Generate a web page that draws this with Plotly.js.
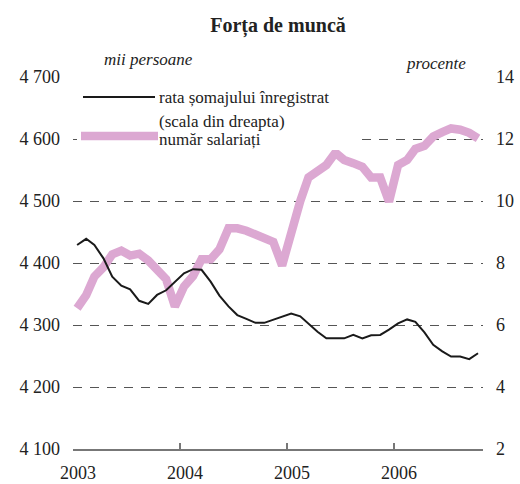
<!DOCTYPE html>
<html lang="ro">
<head>
  <meta charset="UTF-8">
  <title>Forța de muncă</title>
  <script src="https://cdn.plot.ly/plotly-3.0.1.min.js"></script>
  <style>
    body { margin: 0; background: #fff; }
    #chart { width: 520px; height: 484px; }
  </style>
</head>
<body>
  <div id="chart"></div>
  <script>
    // months Jan 2003 .. Oct 2006 (mid-month points)
    const months = [];
    for (let y = 2003; y <= 2006; y++) {
      for (let m = 1; m <= 12; m++) {
        if (y === 2006 && m > 10) break;
        months.push(y + '-' + String(m).padStart(2, '0') + '-15');
      }
    }

    // rata somajului inregistrat, % (right scale)
    const unemployment = [
      8.58, 8.78, 8.58, 8.15, 7.56, 7.27, 7.15, 6.78, 6.68, 6.97, 7.12, 7.38,
      7.67, 7.80, 7.78, 7.40, 6.95, 6.60, 6.32, 6.20, 6.07, 6.07, 6.17, 6.28,
      6.37, 6.28, 6.05, 5.78, 5.57, 5.57, 5.57, 5.68, 5.57, 5.67, 5.68, 5.85,
      6.05, 6.18, 6.10, 5.76, 5.36, 5.15, 4.98, 4.98, 4.90, 5.09
    ];

    // numar salariati, mii persoane (left scale)
    const employees = [
      4327, 4348, 4378, 4393, 4414, 4420, 4412, 4415, 4404, 4390, 4374, 4330,
      4362, 4379, 4406, 4406, 4422, 4456, 4456, 4452, 4447, 4439, 4434, 4396,
      4452, 4500, 4538, 4550, 4558, 4578, 4566, 4561, 4555, 4538, 4538, 4499,
      4558, 4566, 4584, 4589, 4604, 4611, 4617, 4615, 4610, 4601
    ];

    const leftTicks = [4100, 4200, 4300, 4400, 4500, 4600, 4700];
    const leftTickText = ['4 100', '4 200', '4 300', '4 400', '4 500', '4 600', '4 700'];
    const rightTicks = [2, 4, 6, 8, 10, 12, 14];
    const yearTicks = ['2003-01-01', '2004-01-01', '2005-01-01', '2006-01-01'];
    const yearText = ['2003', '2004', '2005', '2006'];

    const pink = '#dca8d2';
    const font = 'Liberation Serif, Times New Roman, serif';

    // pixel -> paper helpers for the hand-made legend
    const L = 73, R = 483, T = 77, B = 449;
    const px = x => (x - L) / (R - L);
    const py = y => (B - y) / (B - T);

    const traces = [
      {
        x: months, y: employees, yaxis: 'y', type: 'scatter', mode: 'lines',
        name: 'număr salariați',
        line: { color: pink, width: 8.5 }, showlegend: false
      },
      {
        x: months, y: unemployment, yaxis: 'y2', type: 'scatter', mode: 'lines',
        name: 'rata șomajului înregistrat (scala din dreapta)',
        line: { color: '#1a1a1a', width: 2 }, showlegend: false
      }
    ];

    const layout = {
      width: 520, height: 484,
      margin: { l: L, r: 520 - R, t: T, b: 484 - B },
      paper_bgcolor: '#fff', plot_bgcolor: '#fff',
      font: { family: font, size: 18, color: '#222' },
      title: {
        text: '<b>Forța de muncă</b>',
        font: { family: font, size: 20, color: '#222' },
        xref: 'paper', x: 0.5, xanchor: 'center',
        yref: 'container', y: 1 - 25 / 484, yanchor: 'middle'
      },
      xaxis: {
        type: 'date',
        range: ['2003-01-01', '2006-11-01'],
        tickvals: yearTicks, ticktext: yearText,
        ticks: 'inside', ticklen: 6, tickcolor: '#777', tickwidth: 1.5,
        showline: true, linecolor: '#777', linewidth: 1.5,
        showgrid: false, zeroline: false,
        ticklabelshift: 5, ticklabelstandoff: 7,
        fixedrange: true
      },
      yaxis: {
        range: [4100, 4700],
        tickvals: leftTicks, ticktext: leftTickText,
        showgrid: true, gridcolor: '#555', gridwidth: 1, griddash: '9px,8px',
        zeroline: false, showline: false, ticks: '',
        ticklabelstandoff: 12,
        fixedrange: true
      },
      yaxis2: {
        range: [2, 14], overlaying: 'y', side: 'right',
        tickvals: rightTicks,
        showgrid: false, zeroline: false, showline: false, ticks: '',
        ticklabelstandoff: 12,
        fixedrange: true
      },
      showlegend: false,
      shapes: [
        // legend background hides the 4 600 grid line
        { type: 'rect', xref: 'paper', yref: 'paper', layer: 'above',
          x0: px(77), x1: px(356), y0: py(150), y1: py(84),
          fillcolor: '#fff', line: { width: 0 } },
        { type: 'line', xref: 'paper', yref: 'paper', layer: 'above',
          x0: px(83), x1: px(155), y0: py(97), y1: py(97),
          line: { color: '#1a1a1a', width: 2 } },
        { type: 'line', xref: 'paper', yref: 'paper', layer: 'above',
          x0: px(81), x1: px(158), y0: py(136), y1: py(136),
          line: { color: pink, width: 8.5 } }
      ],
      annotations: [
        { text: 'rata șomajului înregistrat', xref: 'paper', yref: 'paper',
          x: px(157), y: py(98), xanchor: 'left', yanchor: 'middle',
          showarrow: false, font: { size: 17 } },
        { text: '(scala din dreapta)', xref: 'paper', yref: 'paper',
          x: px(157), y: py(121), xanchor: 'left', yanchor: 'middle',
          showarrow: false, font: { size: 17 } },
        { text: 'număr salariați', xref: 'paper', yref: 'paper',
          x: px(157), y: py(139), xanchor: 'left', yanchor: 'middle',
          showarrow: false, font: { size: 17 } },
        { text: '<i>mii persoane</i>', xref: 'paper', yref: 'paper',
          x: px(148), y: py(59), xanchor: 'center', yanchor: 'middle',
          showarrow: false, font: { size: 17 } },
        { text: '<i>procente</i>', xref: 'paper', yref: 'paper',
          x: px(436), y: py(63), xanchor: 'center', yanchor: 'middle',
          showarrow: false, font: { size: 17 } }
      ]
    };

    Plotly.newPlot('chart', traces, layout, { displayModeBar: false, staticPlot: true });
  </script>
</body>
</html>
